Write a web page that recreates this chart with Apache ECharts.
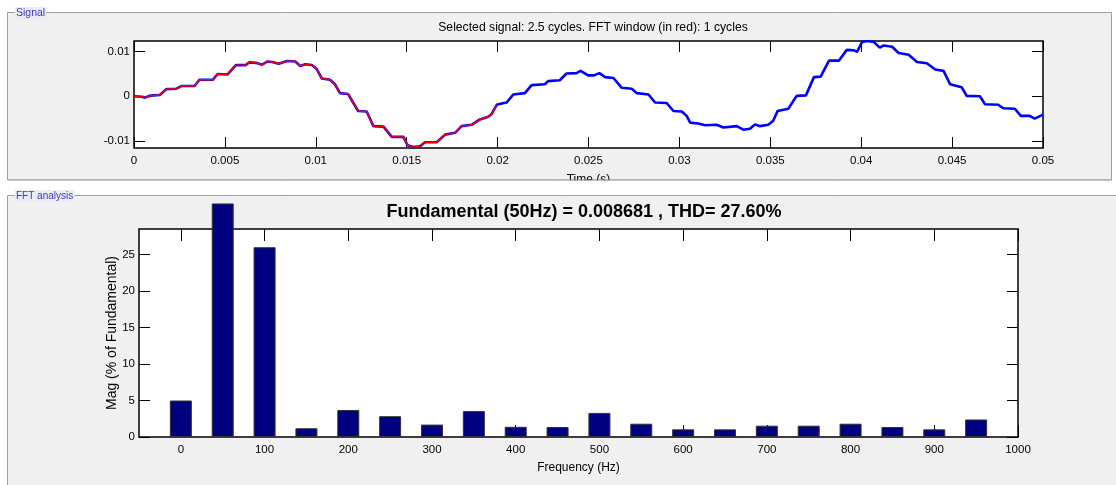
<!DOCTYPE html>
<html>
<head>
<meta charset="utf-8">
<script src="https://cdn.jsdelivr.net/npm/echarts@6/dist/echarts.min.js"></script>
<style>
  html, body { margin: 0; padding: 0; background: #ffffff; }
  #chart { width: 1116px; height: 485px; }
</style>
</head>
<body>
<div id="chart"></div>
<script>
// ---------- Signal panel data (time in s, signal value) ----------
const signalTime = [
  0, 0.00042, 0.0006, 0.00087, 0.00105, 0.00142, 0.00178, 0.00233, 0.0026, 0.00333,
  0.0036, 0.00433, 0.0046, 0.00515, 0.0056, 0.00615, 0.00633, 0.0067, 0.00705, 0.00733,
  0.0076, 0.00796, 0.00842, 0.00887, 0.00915, 0.00942, 0.00978, 0.01005, 0.01033, 0.01078,
  0.01105, 0.01133, 0.01178, 0.01205, 0.01233, 0.0128, 0.01317, 0.01372, 0.01418, 0.01482,
  0.01505, 0.01537, 0.01573, 0.01601, 0.01665, 0.01711, 0.01766, 0.01802, 0.01857, 0.01903,
  0.01949, 0.01967, 0.01995, 0.02022, 0.0205, 0.02086, 0.0215, 0.02187, 0.0226, 0.02278,
  0.02342, 0.02379, 0.02434, 0.02456, 0.02498, 0.0253, 0.0256, 0.02591, 0.02637, 0.02683,
  0.02738, 0.02766, 0.0283, 0.02866, 0.0293, 0.02967, 0.03013, 0.0304, 0.03059, 0.03104,
  0.03141, 0.03205, 0.03242, 0.03315, 0.03352, 0.03388, 0.03416, 0.03443, 0.03489, 0.03516,
  0.0354, 0.03599, 0.03645, 0.03696, 0.0374, 0.03777, 0.03823, 0.03878, 0.0392, 0.0396,
  0.03978, 0.04005, 0.04033, 0.04069, 0.04102, 0.04124, 0.0417, 0.04206, 0.04261, 0.04307,
  0.04361, 0.04407, 0.04453, 0.04489, 0.04553, 0.0458, 0.04653, 0.04681, 0.04754, 0.04781,
  0.04845, 0.04878, 0.04927, 0.04954, 0.05
];
const signalValue = [
  0, -0.0001, -0.0003, 0.0001, 0.0002, 0.0003, 0.0016, 0.0017, 0.0023, 0.0023,
  0.0037, 0.0037, 0.005, 0.0049, 0.007, 0.007, 0.0076, 0.0075, 0.0071, 0.0078,
  0.0077, 0.0073, 0.0079, 0.0078, 0.0068, 0.0072, 0.007, 0.0061, 0.004, 0.0037,
  0.0027, 0.0007, 0.0005, -0.0014, -0.0033, -0.0034, -0.0067, -0.0068, -0.0091, -0.0091,
  -0.011, -0.0114, -0.0112, -0.0103, -0.0103, -0.0086, -0.0082, -0.0067, -0.0064, -0.0052,
  -0.0046, -0.004, -0.0019, -0.0016, -0.0014, 0.0004, 0.0007, 0.0025, 0.0027, 0.0034,
  0.0036, 0.0051, 0.0052, 0.0057, 0.0047, 0.0047, 0.0052, 0.0043, 0.0041, 0.0019,
  0.0017, 0.0007, 0.0004, -0.0014, -0.0015, -0.0033, -0.0034, -0.0044, -0.0059, -0.0061,
  -0.0065, -0.0064, -0.007, -0.0067, -0.0075, -0.0073, -0.0063, -0.0067, -0.0064, -0.0055,
  -0.0033, -0.0028, 0.0001, 0.0002, 0.0043, 0.0044, 0.008, 0.008, 0.0104, 0.0103,
  0.01, 0.0122, 0.0124, 0.0122, 0.0109, 0.0114, 0.0111, 0.0097, 0.0093, 0.0077,
  0.0074, 0.006, 0.0057, 0.0027, 0.002, 0.0001, 0, -0.0018, -0.0019, -0.0027,
  -0.0028, -0.0044, -0.0044, -0.005, -0.0041
];
const fftWindowEnd = 0.02;          // red part: 1 cycle
const signalXTicks = [0, 0.005, 0.01, 0.015, 0.02, 0.025, 0.03, 0.035, 0.04, 0.045, 0.05];
const signalYTicks = [-0.01, 0, 0.01];

// ---------- FFT panel data ----------
const fftFreq = [0, 50, 100, 150, 200, 250, 300, 350, 400, 450, 500, 550, 600, 650, 700, 750, 800, 850, 900, 950];
// magnitudes as visible in the picture (% of fundamental); the 50 Hz bar is drawn beyond the axes top
const fftMag = [5.0, 32.0, 26.0, 1.2, 3.7, 2.85, 1.7, 3.55, 1.4, 1.37, 3.3, 1.82, 1.05, 1.05, 1.55, 1.55, 1.82, 1.37, 1.05, 2.4];
const fftXTicks = [0, 100, 200, 300, 400, 500, 600, 700, 800, 900, 1000];
const fftYTicks = [0, 5, 10, 15, 20, 25];

const topTitle = 'Selected signal: 2.5 cycles. FFT window (in red): 1 cycles';
const fftTitle = 'Fundamental (50Hz) = 0.008681 , THD= 27.60%';

// ---------- build ----------
const SANS = "'Liberation Sans', Arial, Helvetica, sans-serif";

const blueData = signalTime.map((t, i) => [t, signalValue[i]]);
const redData = blueData.filter(p => p[0] <= fftWindowEnd + 1e-9);
const barData = fftFreq.map((f, i) => [f, fftMag[i]]);

function fmtNum(v) {
  if (Math.abs(v) < 1e-12) return '0';
  return String(parseFloat(v.toFixed(4)));
}

const tickStyle = { show: true, inside: true, length: 11, lineStyle: { color: '#000', width: 1 } };
const labelStyle = { color: '#000', fontFamily: SANS, fontSize: 11.5 };
const noLine = { show: false, onZero: false };

const chart = echarts.init(document.getElementById('chart'), null, { renderer: 'canvas' });

chart.setOption({
  animation: false,
  backgroundColor: '#ffffff',
  title: [
    {
      text: topTitle, left: 588, top: 17, textAlign: 'center',
      textStyle: { fontFamily: SANS, fontSize: 12.2, fontWeight: 'normal', color: '#000' }
    },
    {
      text: fftTitle, left: 579, top: 198, textAlign: 'center',
      textStyle: { fontFamily: SANS, fontSize: 18, fontWeight: 'bold', color: '#000' }
    }
  ],
  graphic: [
    { type: 'rect', z: -10, shape: { x: 7.5, y: 12.5, width: 1104, height: 167.5 },
      style: { fill: '#f0f0f0', stroke: '#a0a0a0', lineWidth: 1 } },
    { type: 'rect', z: -10, shape: { x: 7.5, y: 195.5, width: 1130, height: 310 },
      style: { fill: '#f0f0f0', stroke: '#a0a0a0', lineWidth: 1 } },
    { type: 'rect', z: 100, shape: { x: 0, y: 180.5, width: 1116, height: 14.5 },
      style: { fill: '#ffffff' } },
    { type: 'line', z: 101, shape: { x1: 7.5, y1: 180, x2: 1111.5, y2: 180 },
      style: { stroke: '#a0a0a0', lineWidth: 1 } },
    { type: 'text', z: 102, x: 15, y: 7,
      style: { text: 'Signal', fill: '#3a3ac8', font: "10.5px " + SANS, backgroundColor: '#ebebf3', padding: [1, 1, 1, 1] } },
    { type: 'text', z: 102, x: 15, y: 190,
      style: { text: 'FFT analysis', fill: '#3a3ac8', font: "10px " + SANS, backgroundColor: '#ebebf3', padding: [1, 1, 1, 1] } }
  ],
  grid: [
    { left: 134, top: 41, width: 909, height: 107, show: true, backgroundColor: '#ffffff',
      borderColor: '#000', borderWidth: 1.5, containLabel: false },
    { left: 139, top: 229, width: 879, height: 208, show: true, backgroundColor: '#ffffff',
      borderColor: '#000', borderWidth: 1.5, containLabel: false }
  ],
  xAxis: [
    { gridIndex: 0, type: 'value', position: 'bottom', min: 0, max: 0.05,
      axisLine: noLine, splitLine: { show: false },
      axisTick: Object.assign({}, tickStyle, { customValues: signalXTicks }),
      axisLabel: Object.assign({}, labelStyle, { customValues: signalXTicks, margin: 7, formatter: fmtNum }),
      name: 'Time (s)', nameLocation: 'middle', nameGap: 26,
      nameTextStyle: { fontFamily: SANS, fontSize: 12, color: '#000' } },
    { gridIndex: 0, type: 'value', position: 'top', min: 0, max: 0.05,
      axisLine: noLine, splitLine: { show: false },
      axisTick: Object.assign({}, tickStyle, { customValues: signalXTicks }),
      axisLabel: { show: false } },
    { gridIndex: 1, type: 'value', position: 'bottom', min: -50, max: 1000,
      axisLine: noLine, splitLine: { show: false },
      axisTick: Object.assign({}, tickStyle, { length: 12, customValues: fftXTicks }),
      axisLabel: Object.assign({}, labelStyle, { customValues: fftXTicks, margin: 7, formatter: fmtNum }),
      name: 'Frequency (Hz)', nameLocation: 'middle', nameGap: 25,
      nameTextStyle: { fontFamily: SANS, fontSize: 12, color: '#000' } },
    { gridIndex: 1, type: 'value', position: 'top', min: -50, max: 1000,
      axisLine: noLine, splitLine: { show: false },
      axisTick: Object.assign({}, tickStyle, { length: 12, customValues: fftXTicks }),
      axisLabel: { show: false } }
  ],
  yAxis: [
    { gridIndex: 0, type: 'value', position: 'left', min: -0.0116, max: 0.0124,
      axisLine: noLine, splitLine: { show: false },
      axisTick: Object.assign({}, tickStyle, { customValues: signalYTicks }),
      axisLabel: Object.assign({}, labelStyle, { customValues: signalYTicks, margin: 4, formatter: fmtNum }) },
    { gridIndex: 0, type: 'value', position: 'right', min: -0.0116, max: 0.0124,
      axisLine: noLine, splitLine: { show: false },
      axisTick: Object.assign({}, tickStyle, { customValues: signalYTicks }),
      axisLabel: { show: false } },
    { gridIndex: 1, type: 'value', position: 'left', min: 0, max: 28.5,
      axisLine: noLine, splitLine: { show: false },
      axisTick: Object.assign({}, tickStyle, { customValues: fftYTicks }),
      axisLabel: Object.assign({}, labelStyle, { customValues: fftYTicks, margin: 4, formatter: fmtNum }),
      name: 'Mag (% of Fundamental)', nameLocation: 'middle', nameGap: 20, nameRotate: 90,
      nameMoveOverlap: false,
      nameTextStyle: { fontFamily: SANS, fontSize: 14, color: '#000' } },
    { gridIndex: 1, type: 'value', position: 'right', min: 0, max: 28.5,
      axisLine: noLine, splitLine: { show: false },
      axisTick: Object.assign({}, tickStyle, { customValues: fftYTicks }),
      axisLabel: { show: false } }
  ],
  series: [
    { type: 'line', xAxisIndex: 0, yAxisIndex: 0, data: blueData, showSymbol: false,
      lineStyle: { color: '#0000ff', width: 2.6 }, z: 3 },
    { type: 'line', xAxisIndex: 0, yAxisIndex: 0, data: redData, showSymbol: false,
      lineStyle: { color: '#ff0000', width: 1.4 }, z: 4 },
    { type: 'bar', xAxisIndex: 2, yAxisIndex: 2, data: barData, barWidth: 22, clip: false,
      itemStyle: { color: '#000080', borderColor: '#333333', borderWidth: 1 }, z: 3 }
  ]
});
</script>
</body>
</html>
